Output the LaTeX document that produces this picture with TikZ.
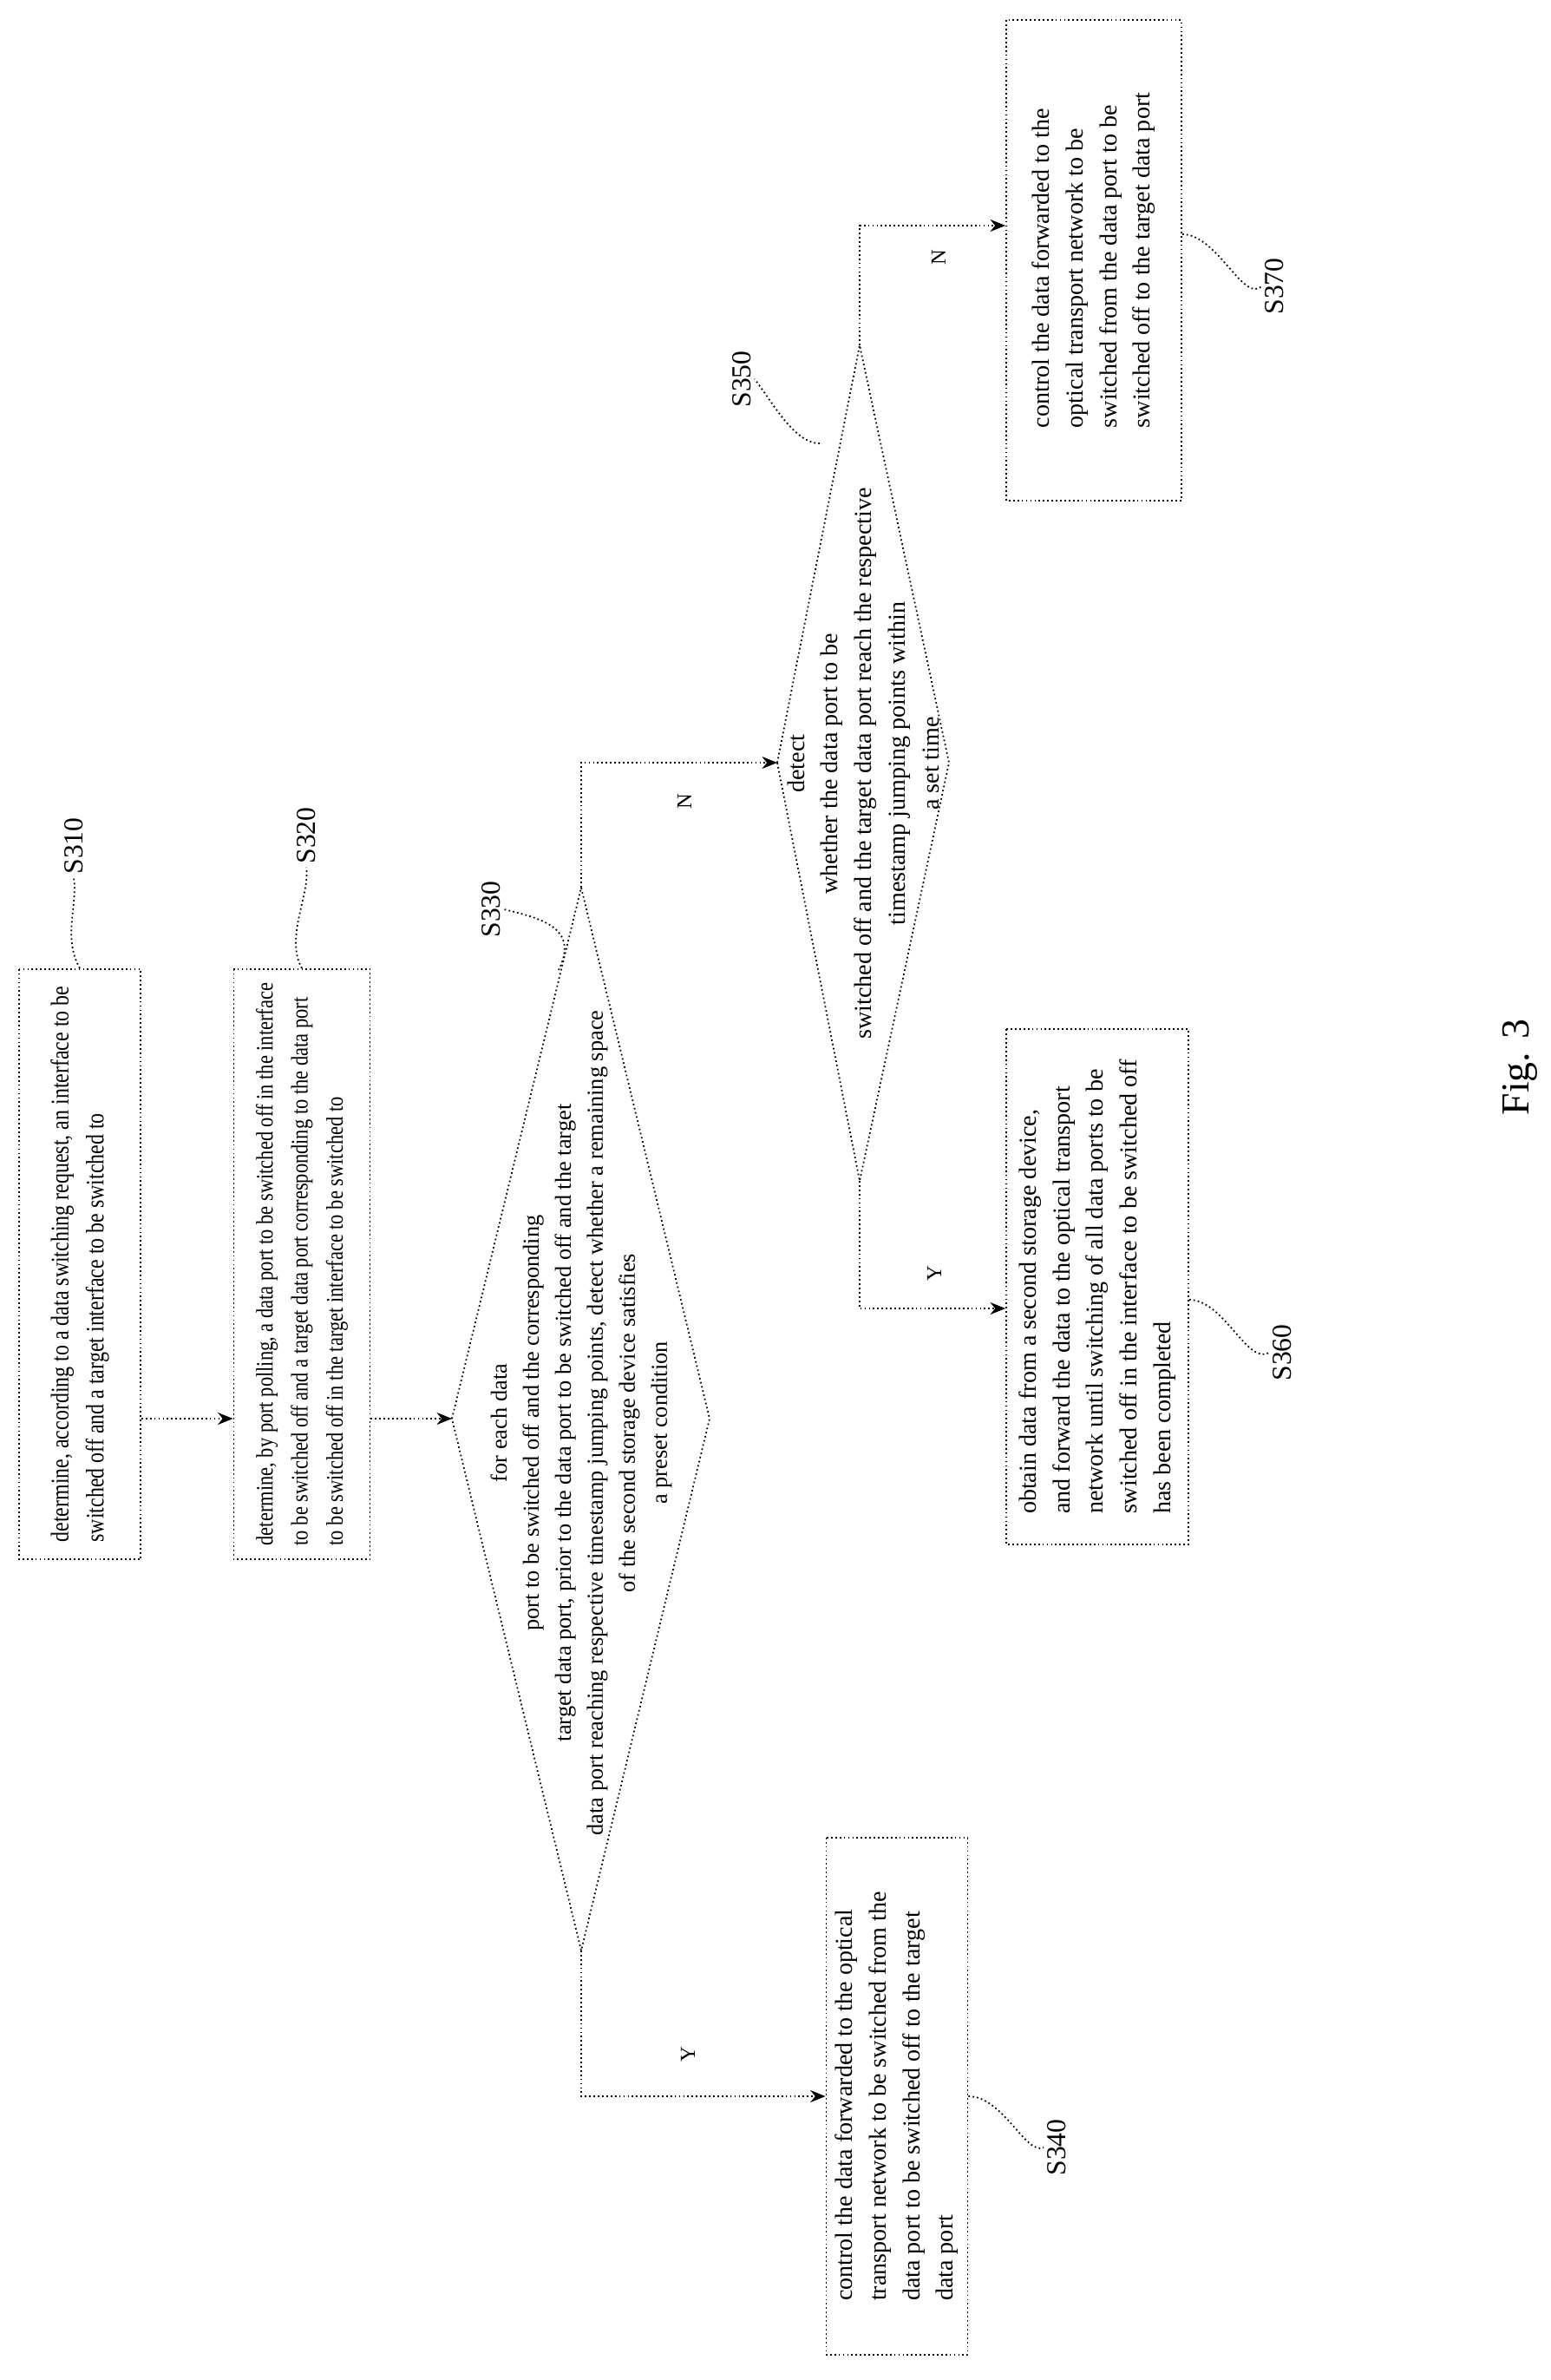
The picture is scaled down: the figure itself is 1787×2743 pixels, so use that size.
\documentclass[tikz,border=0pt]{standalone}
\usepackage{fontspec}
\setmainfont{Liberation Serif}
\newfontfamily\condfont[FakeStretch=0.82]{Liberation Serif}
\usetikzlibrary{arrows.meta}

\tikzset{
  dots/.style={dash pattern=on 0.5pt off 0.9pt, line width=0.5pt},
  box/.style={draw, dots, rotate=90, align=left, inner sep=3pt,
    font=\fontsize{8}{11}\selectfont},
  cbox/.style={box, font=\condfont\fontsize{8.3}{11.5}\selectfont},
  dtext/.style={rotate=90, align=center, font=\fontsize{7.5}{10.5}\selectfont},
  lbl/.style={rotate=90, inner sep=1pt, font=\fontsize{9}{10}\selectfont},
  yn/.style={rotate=90, inner sep=1pt, font=\fontsize{7}{8}\selectfont},
  flow/.style={dots, -{Stealth[length=5pt,width=4pt]}},
  lead/.style={dots},
}

\begin{document}
\begin{tikzpicture}[x=0.01cm, y=-0.01cm]
  \useasboundingbox (0,0) rectangle (1787,2743);

  % boxes
  \node[cbox, minimum width=6.8cm, minimum height=1.4cm] (s310) at (92,1457)
    {determine, according to a data switching request, an interface to be\\
     switched off and a target interface to be switched to};
  \node[cbox, font=\condfont\fontsize{7.8}{11.5}\selectfont,
    minimum width=6.8cm, minimum height=1.57cm] (s320) at (348,1457)
    {determine, by port polling, a data port to be switched off in the interface\\
     to be switched off and a target data port corresponding to the data port\\
     to be switched off in the target interface to be switched to};
  \node[box, minimum width=5.96cm, minimum height=1.61cm] (s340) at (1034,2416)
    {control the data forwarded to the optical\\
     transport network to be switched from the\\
     data port to be switched off to the target\\
     data port};
  \node[box, minimum width=5.93cm, minimum height=2.1cm] (s360) at (1265,1483)
    {obtain data from a second storage device,\\
     and forward the data to the optical transport\\
     network until switching of all data ports to be\\
     switched off in the interface to be switched off\\
     has been completed};
  \node[box, minimum width=5.53cm, minimum height=2.02cm] (s370) at (1261,300)
    {control the data forwarded to the\\
     optical transport network to be\\
     switched from the data port to be\\
     switched off to the target data port};

  % decisions
  \coordinate (d330w) at (521,1635);
  \coordinate (d330e) at (818,1635);
  \coordinate (d330t) at (670,1023);
  \coordinate (d330b) at (670,2248);
  \draw[dots] (d330w) -- (d330t) -- (d330e) -- (d330b) -- cycle;
  \node[dtext] (t330) at (670,1640)
    {for each data\\
     port to be switched off and the corresponding\\
     target data port, prior to the data port to be switched off and the target\\
     data port reaching respective timestamp jumping points, detect whether a remaining space\\
     of the second storage device satisfies\\
     a preset condition};

  \coordinate (d350w) at (896,879);
  \coordinate (d350e) at (1094,879);
  \coordinate (d350t) at (991,398);
  \coordinate (d350b) at (991,1361);
  \draw[dots] (d350w) -- (d350t) -- (d350e) -- (d350b) -- cycle;
  \node[dtext, font=\fontsize{8}{11}\selectfont] (t350) at (995,880)
    {detect\\
     whether the data port to be\\
     switched off and the target data port reach the respective\\
     timestamp jumping points within\\
     a set time};

  % connectors
  \draw[flow] (s310.south |- d330w) -- (s320.north |- d330w);
  \draw[flow] (s320.south |- d330w) -- (d330w);
  \draw[flow] (d330t) |- (d350w);
  \draw[flow] (d330b) |- (s340.north);
  \draw[flow] (d350t) |- ([yshift=0.4cm]s370.north);
  \draw[flow] (d350b) |- ([yshift=-0.25cm]s360.north);

  \node[yn] (n1) at (789,924) {N};
  \node[yn] (y1) at (793,2368) {Y};
  \node[yn] (n2) at (1082,297) {N};
  \node[yn] (y2) at (1077,1468) {Y};

  % step labels
  \node[lbl] (l310) at (85,975) {S310};
  \node[lbl] (l320) at (353,963) {S320};
  \node[lbl] (l330) at (566,1048) {S330};
  \node[lbl] (l350) at (855,437) {S350};
  \node[lbl] (l370) at (1469,330) {S370};
  \node[lbl] (l360) at (1478,1559) {S360};
  \node[lbl] (l340) at (1218,2475) {S340};

  \draw[lead] (s310.east) .. controls +(-20,-35) and +(5,30) .. (l310.west);
  \draw[lead] (s320.east) .. controls +(-20,-35) and +(5,30) .. (l320.west);
  \draw[lead] (644,1118) .. controls +(25,-50) and +(40,10) .. (l330.south);
  \draw[lead] (945,511) .. controls +(-30,0) and +(20,25) .. (l350.south);
  \draw[lead] ([yshift=0.3cm]s370.south) .. controls +(40,0) and +(-20,20) .. (l370.north);
  \draw[lead] ([yshift=-0.15cm]s360.south) .. controls +(40,0) and +(-25,15) .. (l360.north);
  \draw[lead] (s340.south) .. controls +(40,0) and +(-20,10) .. (l340.north);

  \node[rotate=90, font=\fontsize{13}{15}\selectfont] (fig) at (1752,1230) {Fig. 3};
\end{tikzpicture}
\end{document}
